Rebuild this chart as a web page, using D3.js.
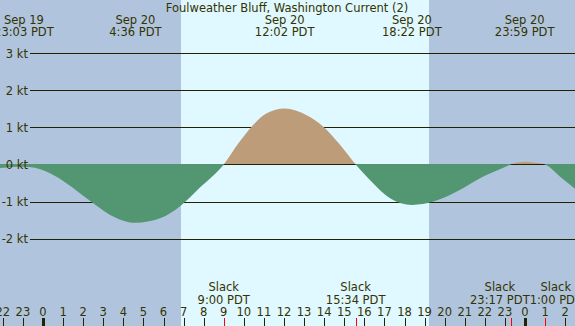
<!DOCTYPE html>
<html>
<head>
<meta charset="utf-8">
<script src="https://cdn.jsdelivr.net/npm/d3@7"></script>
<style>
  html, body { margin: 0; padding: 0; background: #fff; }
  svg text { font-family: "DejaVu Sans", sans-serif; font-size: 11.5px; fill: #333300; }
</style>
</head>
<body>
<div id="chart"></div>
<script>
(function() {
  var width = 575, height = 326;

  // hours counted from Sep 20 00:00 PDT, current in knots
  var hours = [-2.2, -1.5, -0.95, -0.4, 0.35, 1.18, 2.34, 3.34, 4.6, 5.83, 6.9, 7.8, 9.0,
               9.73, 10.39, 11.14, 12.03, 13.13, 13.96, 14.79, 15.57, 16.45, 17.28, 18.37,
               19.44, 20.6, 21.76, 22.92, 23.28, 23.98, 24.5, 25.0, 25.75, 26.6];
  var knots = [-0.10, -0.07, -0.06, -0.09, -0.24, -0.51, -0.98, -1.36, -1.57, -1.45, -1.09, -0.63, 0,
               0.57, 1.02, 1.38, 1.51, 1.33, 1.02, 0.53, 0, -0.51, -0.91, -1.09,
               -1.0, -0.73, -0.37, -0.09, 0, 0.075, 0.05, 0, -0.33, -0.70];

  var eventHours = [-0.95, 4.6, 12.033, 18.367, 23.983];
  var eventDays = ['Sep 19', 'Sep 20', 'Sep 20', 'Sep 20', 'Sep 20'];
  var eventTimes = ['23:03 PDT', '4:36 PDT', '12:02 PDT', '18:22 PDT', '23:59 PDT'];

  var slackHours = [9.0, 15.567, 23.283, 25.0];
  var slackTimes = ['9:00 PDT', '15:34 PDT', '23:17 PDT', '1:00 PDT'];

  var sunrise = 6.87, sunset = 19.22;
  var ktTicks = [3, 2, 1, 0, -1, -2];
  var hourTicks = d3.range(-2, 27);

  var x = d3.scaleLinear().domain([0, 24]).range([43, 525]);
  var y = d3.scaleLinear().domain([-2, 3]).range([238.6, 53.3]);

  var svg = d3.select('#chart')
              .append('svg')
              .attr('width', width)
              .attr('height', height);

  // night / day background
  svg.append('rect')
    .attr('x', 0).attr('y', 0)
    .attr('width', width).attr('height', height)
    .attr('fill', '#b0c4de');
  svg.append('rect')
    .attr('x', x(sunrise)).attr('y', 0)
    .attr('width', x(sunset) - x(sunrise)).attr('height', height)
    .attr('fill', '#e0f8ff');

  // grid lines
  svg.selectAll('line.grid')
    .data(ktTicks)
    .enter().append('line')
    .attr('class', 'grid')
    .attr('x1', 30).attr('x2', width)
    .attr('y1', function(d) { return Math.round(y(d)) + 0.5; })
    .attr('y2', function(d) { return Math.round(y(d)) + 0.5; })
    .attr('stroke', '#222200')
    .attr('stroke-width', 1);

  var data = hours.map(function(h, i) { return [h, knots[i]]; });
  var zeroY = Math.round(y(0));

  var defs = svg.append('defs');
  defs.append('clipPath').attr('id', 'above')
    .append('rect').attr('x', 0).attr('y', 0).attr('width', width).attr('height', zeroY);
  defs.append('clipPath').attr('id', 'below')
    .append('rect').attr('x', 0).attr('y', zeroY).attr('width', width).attr('height', height - zeroY);

  var area = d3.area()
    .curve(d3.curveMonotoneX)
    .x(function(d) { return x(d[0]); })
    .y0(zeroY)
    .y1(function(d) { return y(d[1]); });

  svg.append('path')
    .datum(data)
    .attr('d', area)
    .attr('clip-path', 'url(#below)')
    .attr('fill', '#529672');
  svg.append('path')
    .datum(data)
    .attr('d', area)
    .attr('clip-path', 'url(#above)')
    .attr('fill', '#bd9c7a');

  // y labels
  svg.selectAll('text.kt')
    .data(ktTicks)
    .enter().append('text')
    .attr('class', 'kt')
    .attr('x', 28)
    .attr('y', function(d) { return y(d) + 4.5; })
    .attr('text-anchor', 'end')
    .text(function(d) { return d + ' kt'; });

  // title
  svg.append('text')
    .attr('x', 287).attr('y', 11.5)
    .attr('text-anchor', 'middle')
    .text('Foulweather Bluff, Washington Current (2)');

  // max current events
  eventHours.forEach(function(h, i) {
    svg.append('text')
      .attr('x', x(h)).attr('y', 23.5)
      .attr('text-anchor', 'middle')
      .text(eventDays[i]);
    svg.append('text')
      .attr('x', x(h)).attr('y', 35.5)
      .attr('text-anchor', 'middle')
      .text(eventTimes[i]);
  });

  // hour axis
  svg.selectAll('text.hr')
    .data(hourTicks)
    .enter().append('text')
    .attr('class', 'hr')
    .attr('x', function(d) { return x(d); })
    .attr('y', 315.5)
    .attr('text-anchor', 'middle')
    .text(function(d) { return ((d % 24) + 24) % 24; });

  svg.selectAll('line.hr')
    .data(hourTicks)
    .enter().append('line')
    .attr('class', 'hr')
    .attr('x1', function(d) { return Math.round(x(d)) + 0.5; })
    .attr('x2', function(d) { return Math.round(x(d)) + 0.5; })
    .attr('y1', 318).attr('y2', height)
    .attr('stroke', '#222200')
    .attr('stroke-width', function(d) { return d % 24 === 0 ? 3 : 1; });

  // slack events; neighbours that would collide are pushed apart evenly
  var slackLabels = slackHours.map(function(h, i) {
    var t = svg.append('text')
      .attr('y', 304)
      .attr('text-anchor', 'middle')
      .text(slackTimes[i]);
    var s = svg.append('text')
      .attr('y', 290.5)
      .attr('text-anchor', 'middle')
      .text('Slack');
    return { cx: x(h), w: t.node().getComputedTextLength(), t: t, s: s };
  });

  for (var i = 1; i < slackLabels.length; i++) {
    var a = slackLabels[i - 1], b = slackLabels[i];
    var overlap = (a.w + b.w) / 2 - (b.cx - a.cx);
    if (overlap > 0) {
      a.cx -= overlap / 2;
      b.cx += overlap / 2;
    }
  }

  slackLabels.forEach(function(l, i) {
    l.t.attr('x', l.cx);
    l.s.attr('x', l.cx);
    svg.append('line')
      .attr('x1', Math.round(x(slackHours[i])) + 0.5)
      .attr('x2', Math.round(x(slackHours[i])) + 0.5)
      .attr('y1', 318).attr('y2', height)
      .attr('stroke', '#ff0000');
  });
}());
</script>
</body>
</html>
